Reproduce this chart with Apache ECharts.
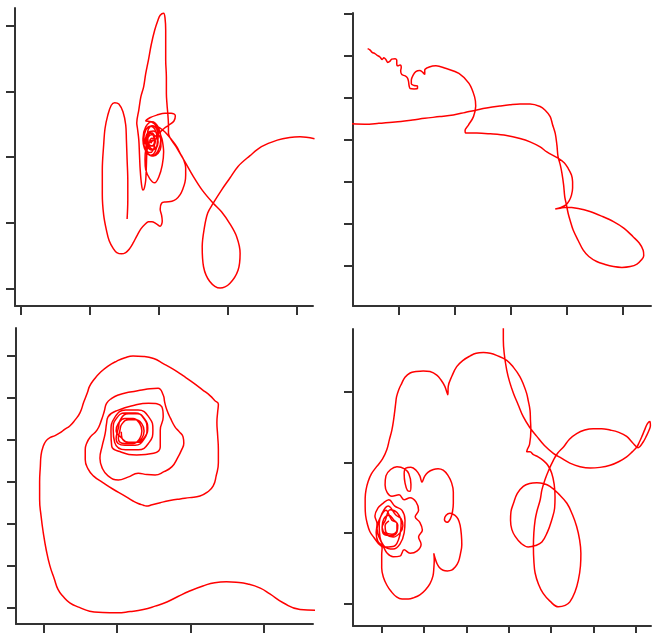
<!DOCTYPE html>
<html><head><meta charset="utf-8">
<script src="https://cdn.jsdelivr.net/npm/echarts@6/dist/echarts.min.js"></script>
<style>html,body{margin:0;padding:0;background:#fff}#c{width:658px;height:633px}</style>
</head><body><div id="c"></div>
<script>
// Tick positions (axis units = tick index; the original shows no labels)
const p1XTicks = [0,1,2,3,4];
const p1YTicks = [0,1,2,3,4];
const p2XTicks = [0,1,2,3,4];
const p2YTicks = [0,1,2,3,4,5,6];
const p3XTicks = [0,1,2,3];
const p3YTicks = [0,1,2,3,4,5,6];
const p4XTicks = [0,1,2,3,4,5,6];
const p4YTicks = [0,1,2,3];

// Panel 1 (top-left) trajectory
const panel1Path = [
[1.54,1.06],[1.55,1.35],[1.55,1.65],[1.54,1.96],[1.53,2.26],[1.52,2.49],[1.48,2.69],[1.42,2.81],[1.36,2.83],[1.31,2.79],[1.26,2.64],[1.22,2.44],[1.20,2.19],[1.18,1.81],[1.18,1.43],[1.20,1.12],[1.24,0.89],[1.28,0.73],[1.34,0.61],[1.39,0.55],[1.46,0.53],[1.52,0.55],[1.57,0.60],[1.63,0.70],[1.68,0.80],[1.74,0.91],[1.80,0.98],[1.85,1.02],[1.90,1.02],[1.96,0.99],[2.02,0.95],[2.05,1.03],[2.04,1.12],[2.02,1.21],[2.04,1.30],[2.10,1.32],[2.19,1.33],[2.25,1.36],[2.31,1.43],[2.35,1.52],[2.38,1.62],[2.39,1.73],[2.39,1.84],[2.36,1.96],[2.31,2.06],[2.26,2.16],[2.19,2.26],[2.12,2.35],
[2.06,2.41],[1.99,2.46],[1.90,2.47],[1.83,2.44],[1.79,2.37],[1.77,2.26],[1.79,2.14],[1.84,2.05],[1.92,2.02],[1.99,2.06],[2.03,2.16],[2.03,2.26],[1.99,2.35],[1.92,2.40],[1.84,2.37],[1.81,2.28],[1.83,2.17],[1.89,2.11],[1.96,2.14],[1.99,2.23],[1.96,2.32],[1.89,2.34],[1.84,2.28],[1.86,2.19],[1.92,2.17],[1.95,2.25],[1.90,2.29],[1.87,2.25],[1.90,2.22],
[1.77,2.28],[1.81,2.46],[1.90,2.54],[1.99,2.46],[2.03,2.28],[1.99,2.10],[1.90,2.02],[1.81,2.10],
[1.78,2.25],[1.81,2.41],[1.88,2.47],[1.95,2.41],[1.98,2.25],[1.95,2.09],[1.88,2.03],[1.81,2.09],
[1.83,2.30],[1.85,2.43],[1.91,2.48],[1.97,2.43],[1.99,2.30],[1.97,2.17],[1.91,2.12],[1.85,2.17],
[1.80,2.22],[1.82,2.33],[1.87,2.37],[1.92,2.33],[1.94,2.22],[1.92,2.11],[1.87,2.07],[1.82,2.11],
[1.84,2.27],[1.85,2.34],[1.89,2.37],[1.93,2.34],[1.94,2.27],[1.93,2.20],[1.89,2.17],[1.85,2.20],
[1.96,2.28],[2.00,2.37],[1.97,2.47],[1.89,2.54],[1.81,2.55],[1.87,2.60],[1.97,2.64],[2.09,2.67],[2.18,2.67],[2.24,2.63],[2.22,2.55],[2.15,2.49],[2.08,2.44],[2.02,2.37],[2.05,2.26],[2.07,2.08],[2.05,1.88],[2.00,1.70],[1.94,1.61],[1.87,1.67],[1.81,1.81],[1.80,1.96],[1.81,2.11],[1.86,2.22],[1.92,2.26],[1.86,2.23],[1.83,2.11],[1.82,1.88],[1.81,1.65],[1.79,1.53],[1.77,1.50],[1.75,1.58],[1.73,1.81],[1.72,2.03],[1.71,2.26],[1.69,2.44],[1.68,2.52],[1.71,2.72],[1.74,2.92],[1.78,3.07],[1.81,3.27],[1.85,3.48],[1.89,3.71],[1.94,3.93],[1.99,4.09],[2.02,4.16],[2.07,4.19],[2.09,4.12],[2.10,3.93],[2.10,3.71],[2.10,3.48],[2.11,3.22],[2.11,2.97],[2.12,2.79],[2.13,2.67],[2.14,2.49],[2.14,2.37],
[2.25,2.16],[2.38,1.93],[2.50,1.71],[2.63,1.50],[2.79,1.30],[2.91,1.17],[3.03,0.99],[3.13,0.79],[3.18,0.54],[3.15,0.28],[3.03,0.08],[2.89,0.01],[2.74,0.11],[2.65,0.33],[2.63,0.64],[2.66,0.92],[2.71,1.15],[2.79,1.30],[2.91,1.50],[3.03,1.68],[3.15,1.86],[3.32,2.02],[3.49,2.16],[3.72,2.26],[3.90,2.30],[4.05,2.31],[4.26,2.28]
];

// Panel 2 (top-right) trajectory
const panel2Path = [
[-0.56,5.16],[-0.52,5.13],[-0.48,5.07],[-0.43,5.04],[-0.39,5.00],[-0.34,4.96],[-0.30,4.90],[-0.27,4.94],[-0.23,4.89],[-0.20,4.83],[-0.16,4.86],[-0.13,4.91],[-0.07,4.92],[-0.04,4.88],[-0.04,4.80],[-0.02,4.75],[0.02,4.77],[0.04,4.71],[0.03,4.63],[0.05,4.54],[0.11,4.51],[0.15,4.46],[0.17,4.38],[0.18,4.28],[0.20,4.21],[0.27,4.20],[0.33,4.21],[0.33,4.27],[0.27,4.28],[0.22,4.32],[0.22,4.41],[0.25,4.52],[0.30,4.61],[0.37,4.64],[0.42,4.60],[0.46,4.54],[0.46,4.65],[0.54,4.72],[0.66,4.75],[0.83,4.69],[1.07,4.57],[1.25,4.33],[1.35,4.01],[1.37,3.79],[1.33,3.54],[1.24,3.34],[1.18,3.21],[1.19,3.15],[1.27,3.15],[1.39,3.15],[1.63,3.13],[1.92,3.09],[2.16,3.02],[2.34,2.94],[2.52,2.82],[2.64,2.70],[2.84,2.55],[2.95,2.44],[3.02,2.31],[3.08,2.15],[3.10,1.99],[3.10,1.84],[3.08,1.67],[3.04,1.54],[2.98,1.44],[2.89,1.38],[2.79,1.34],[2.88,1.36],[2.99,1.38],[3.20,1.35],[3.41,1.28],[3.62,1.17],[3.83,1.04],[4.02,0.88],[4.18,0.68],[4.29,0.53],[4.36,0.36],[4.37,0.23],[4.33,0.13],[4.25,0.03],[4.13,-0.03],[3.98,-0.05],[3.83,-0.03],[3.68,0.02],[3.53,0.09],[3.39,0.21],[3.29,0.36],[3.20,0.59],[3.11,0.84],[3.06,1.05],[3.02,1.24],[2.99,1.44],[2.96,1.63],[2.94,1.91],[2.91,2.19],[2.88,2.39],[2.84,2.59],[2.82,2.86],[2.79,3.14],[2.74,3.36],[2.70,3.54],[2.61,3.69],[2.52,3.78],[2.34,3.84],[2.16,3.84],[1.98,3.82],[1.80,3.79],[1.59,3.75],[1.39,3.70],[1.18,3.64],[0.97,3.58],[0.73,3.54],[0.46,3.50],[0.24,3.46],[-0.07,3.41],[-0.36,3.38],[-0.61,3.36],[-0.85,3.37]
];

// Panel 3 (bottom-left) trajectory
const panel3Path = [
[3.70,-0.07],[3.49,-0.05],[3.26,0.11],[3.08,0.32],[2.95,0.46],[2.78,0.56],[2.62,0.60],[2.49,0.61],[2.33,0.59],[2.17,0.51],[1.99,0.39],[1.83,0.26],[1.68,0.13],[1.52,0.03],[1.36,-0.05],[1.18,-0.10],[1.00,-0.13],[0.81,-0.12],[0.63,-0.09],[0.49,0.00],[0.36,0.11],[0.27,0.26],[0.20,0.43],[0.15,0.68],[0.09,0.99],[0.04,1.37],[0.00,1.78],[-0.03,2.18],[-0.05,2.58],[-0.05,2.99],[-0.04,3.37],[-0.03,3.64],[0.00,3.85],[0.04,3.98],[0.09,4.05],[0.16,4.10],[0.23,4.17],[0.29,4.25],[0.36,4.33],[0.43,4.47],[0.50,4.65],[0.55,4.90],[0.60,5.13],[0.63,5.28],[0.69,5.44],[0.77,5.60],[0.88,5.76],[1.00,5.88],[1.11,5.96],[1.22,6.00],[1.36,5.99],[1.50,5.94],[1.63,5.82],[1.77,5.68],[1.90,5.53],[2.04,5.36],[2.16,5.20],[2.27,5.05],[2.33,4.94],[2.38,4.85],[2.37,4.66],[2.36,4.41],[2.37,4.11],[2.38,3.76],[2.38,3.45],[2.35,3.14],[2.31,2.90],[2.23,2.75],[2.13,2.66],[1.99,2.62],[1.86,2.59],[1.72,2.55],[1.59,2.50],[1.48,2.45],[1.40,2.42],[1.36,2.44],[1.29,2.48],[1.22,2.54],[1.10,2.67],[0.95,2.82],[0.81,2.98],[0.68,3.14],[0.61,3.30],[0.57,3.53],
[0.57,3.76],[0.59,3.92],[0.64,4.07],[0.73,4.23],[0.79,4.47],[0.83,4.69],[0.86,4.87],[0.93,4.99],[1.02,5.07],[1.18,5.14],[1.34,5.19],[1.45,5.22],[1.56,5.23],[1.63,5.07],[1.65,4.90],[1.68,4.71],[1.73,4.51],[1.79,4.31],[1.85,4.19],[1.90,4.07],[1.91,3.92],[1.88,3.76],[1.82,3.55],[1.75,3.36],[1.64,3.24],[1.52,3.16],[1.41,3.17],[1.29,3.20],[1.15,3.11],[1.02,3.04],[0.88,3.14],[0.80,3.33],[0.77,3.56],[0.80,3.85],
[0.84,4.14],[0.86,4.39],[0.88,4.55],[1.02,4.71],[1.25,4.83],[1.43,4.87],[1.61,4.79],[1.63,4.55],[1.59,4.23],[1.59,3.83],[1.50,3.68],[1.27,3.64],[1.04,3.72],[0.93,3.85],
[0.92,4.19],[0.97,4.53],[1.12,4.71],[1.29,4.71],[1.44,4.53],[1.49,4.23],[1.44,3.94],[1.29,3.76],[1.12,3.76],[0.97,3.94],
[0.95,4.26],[0.99,4.50],[1.11,4.64],[1.25,4.64],[1.37,4.50],[1.41,4.26],[1.37,4.02],[1.25,3.87],[1.11,3.87],[0.99,4.02],
[1.02,4.28],[1.05,4.49],[1.16,4.62],[1.28,4.62],[1.38,4.49],[1.42,4.28],[1.38,4.07],[1.28,3.94],[1.16,3.94],[1.05,4.07],
[0.99,4.21],[1.02,4.39],[1.11,4.51],[1.22,4.51],[1.31,4.39],[1.34,4.21],[1.31,4.03],[1.22,3.91],[1.11,3.91],[1.02,4.03],
[1.04,4.21],[1.07,4.38],[1.16,4.48],[1.26,4.48],[1.34,4.38],[1.37,4.21],[1.34,4.04],[1.26,3.94],[1.16,3.94],[1.07,4.04],[1.06,4.19]
];

// Panel 4 (bottom-right) trajectory
const panel4Path = [
[2.87,3.94],[2.87,3.74],[2.89,3.55],[2.95,3.31],[3.02,3.14],[3.11,2.98],[3.22,2.82],[3.34,2.65],[3.49,2.50],[3.66,2.37],[3.84,2.24],[4.05,2.13],[4.24,2.06],[4.44,1.99],[4.68,1.94],[4.92,1.92],[5.15,1.93],[5.39,1.96],[5.59,2.01],[5.78,2.08],[5.91,2.15],[6.02,2.22],[6.08,2.29],[6.14,2.37],[6.21,2.47],[6.27,2.55],[6.33,2.58],[6.34,2.52],[6.31,2.46],[6.25,2.38],[6.17,2.29],[6.05,2.21],[5.92,2.28],[5.78,2.37],[5.58,2.43],[5.39,2.46],[5.19,2.48],[4.99,2.48],[4.79,2.46],[4.60,2.41],[4.43,2.33],[4.29,2.22],[4.15,2.13],[4.05,2.03],[3.94,1.89],[3.85,1.75],[3.78,1.61],[3.74,1.47],[3.66,1.30],[3.62,1.18],[3.59,1.00],[3.58,0.80],[3.59,0.61],[3.62,0.43],[3.70,0.27],[3.81,0.14],[3.97,0.03],[4.17,-0.05],[4.33,-0.03],[4.44,0.02],[4.56,0.16],[4.64,0.33],[4.69,0.53],[4.70,0.71],[4.67,0.90],[4.60,1.09],[4.50,1.26],[4.37,1.42],[4.18,1.55],[3.97,1.66],[3.81,1.70],[3.66,1.71],[3.49,1.70],[3.34,1.66],[3.20,1.56],[3.11,1.42],[3.05,1.30],[3.04,1.18],[3.07,1.05],[3.15,0.95],[3.29,0.85],[3.46,0.80],[3.63,0.82],[3.78,0.87],[3.91,1.01],[4.01,1.18],[4.08,1.35],[4.09,1.51],[4.07,1.69],[4.01,1.85],[3.92,1.96],[3.81,2.03],[3.69,2.08],[3.58,2.11],[3.50,2.15],[3.42,2.15],[3.44,2.19],[3.49,2.26],[3.52,2.46],[3.51,2.60],[3.50,2.74],[3.46,2.87],[3.42,2.98],[3.35,3.10],[3.26,3.22],[3.11,3.35],[2.95,3.45],[2.71,3.52],[2.56,3.55],[2.40,3.56],[2.23,3.55],[2.08,3.51],[1.92,3.45],[1.77,3.36],[1.66,3.23],[1.57,3.08],[1.56,2.96],[1.49,3.08],[1.40,3.17],[1.30,3.24],[1.14,3.29],[0.98,3.30],[0.81,3.29],[0.67,3.27],[0.55,3.21],[0.47,3.12],[0.40,3.03],[0.35,2.93],[0.33,2.84],[0.31,2.74],[0.28,2.60],[0.24,2.46],[0.18,2.32],[0.12,2.18],[0.02,2.05],[-0.12,1.94],[-0.24,1.84],[-0.32,1.73],[-0.37,1.61],[-0.39,1.49],[-0.39,1.37],[-0.38,1.25],[-0.34,1.13],[-0.28,1.02],[-0.18,0.93],[-0.08,0.85],[0.01,0.79],
[0.00,0.69],[0.00,0.50],[0.04,0.37],[0.12,0.26],[0.22,0.17],[0.35,0.09],[0.48,0.06],[0.63,0.06],[0.76,0.08],[0.90,0.12],[1.03,0.19],[1.14,0.28],[1.21,0.39],[1.23,0.50],[1.24,0.61],[1.23,0.71],[1.26,0.64],[1.30,0.57],[1.36,0.51],[1.45,0.47],[1.55,0.46],[1.65,0.47],[1.74,0.52],[1.81,0.59],[1.86,0.71],[1.89,0.83],[1.88,0.97],[1.85,1.11],[1.80,1.20],[1.73,1.25],[1.61,1.28],[1.52,1.25],[1.48,1.19],[1.54,1.15],[1.62,1.20],[1.67,1.30],[1.69,1.42],[1.69,1.58],[1.65,1.71],[1.56,1.82],[1.45,1.89],[1.33,1.91],[1.22,1.90],[1.09,1.86],[1.01,1.80],[0.95,1.72],[0.90,1.81],[0.81,1.89],[0.69,1.93],[0.57,1.92],[0.53,1.84],[0.55,1.71],[0.61,1.60],[0.67,1.59],[0.69,1.69],[0.64,1.84],[0.54,1.91],[0.36,1.94],[0.21,1.90],[0.10,1.81],[0.08,1.68],[0.13,1.57],
[0.24,1.52],[0.41,1.54],[0.53,1.47],[0.67,1.50],[0.81,1.44],[0.87,1.32],[0.79,1.23],[0.90,1.15],[0.96,1.04],[0.87,0.94],[0.93,0.84],[0.83,0.74],[0.67,0.71],[0.53,0.76],[0.43,0.67],[0.27,0.66],[0.13,0.71],[0.03,0.81],[-0.09,0.88],[-0.13,1.00],[-0.11,1.13],[-0.16,1.24],[-0.09,1.35],[0.03,1.42],[0.17,1.47],
[0.31,1.38],[0.48,1.32],[0.55,1.18],[0.53,1.00],[0.43,0.84],[0.27,0.77],[0.08,0.80],[-0.04,0.94],[-0.06,1.13],[0.01,1.28],[0.15,1.38],
[0.34,1.25],[0.46,1.20],[0.50,1.10],[0.43,1.00],[0.27,0.94],[0.10,0.98],[0.01,1.08],[0.05,1.20],[0.17,1.25],
[0.29,1.18],[0.38,1.11],[0.36,1.01],[0.22,0.96],[0.05,0.98],[0.01,1.08],[0.08,1.17],
[0.20,1.33],[0.36,1.29],[0.46,1.15],[0.43,0.97],[0.29,0.81],[0.10,0.80],[-0.04,0.91],[-0.11,1.06],[-0.04,1.21],[0.10,1.32],
[0.24,1.18],[0.36,1.14],[0.36,1.04],[0.24,0.98],[0.10,1.01],[0.08,1.10],[0.17,1.17]
];

const chart = echarts.init(document.getElementById('c'), null, {renderer: 'canvas'});
const AX = '#333';
function xAx(gi, min, max, ticks) {
  return {type: 'value', gridIndex: gi, min: min, max: max,
    axisLine: {show: true, onZero: false, lineStyle: {color: AX, width: 2}},
    axisTick: {show: true, customValues: ticks, length: 9, lineStyle: {color: AX, width: 2}},
    axisLabel: {show: false, customValues: ticks},
    splitLine: {show: false}};
}
const yAx = xAx;
function ser(gi, data, sm) {
  return {type: 'line', xAxisIndex: gi, yAxisIndex: gi, data: data, showSymbol: false, symbol: 'none',
    smooth: sm, clip: true, lineStyle: {color: '#ff0000', width: 1.5}, animation: false};
}
chart.setOption({
  animation: false,
  backgroundColor: '#ffffff',
  grid: [
    {left: 15, top: 8, width: 298, height: 298},
    {left: 353, top: 13, width: 298, height: 293},
    {left: 16, top: 328, width: 297, height: 296},
    {left: 353, top: 329, width: 298, height: 297}
  ],
  xAxis: [
    xAx(0, -0.0871, 4.238, p1XTicks),
    xAx(1, -0.8214, 4.5, p2XTicks),
    xAx(2, -0.3711, 3.6664, p3XTicks),
    xAx(3, -0.6772, 6.3544, p4XTicks)
  ],
  yAxis: [
    yAx(0, -0.2631, 4.2692, p1YTicks),
    yAx(1, -0.969, 6.007, p2YTicks),
    yAx(2, -0.3964, 6.669, p3YTicks),
    yAx(3, -0.3223, 3.8946, p4YTicks)
  ],
  series: [ser(0, panel1Path, 0.35), ser(1, panel2Path, 0.35), ser(2, panel3Path, 0.5), ser(3, panel4Path, 0.4)]
});
</script></body></html>
